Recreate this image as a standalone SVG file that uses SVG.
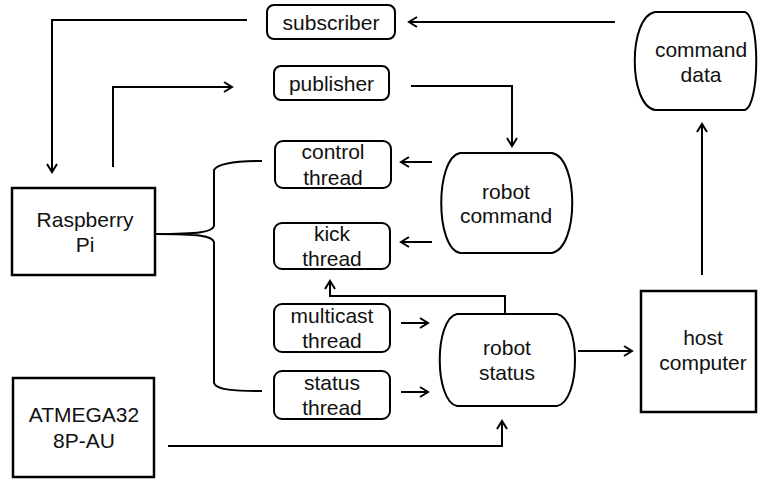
<svg xmlns="http://www.w3.org/2000/svg" width="759" height="479" viewBox="0 0 759 479">
<style>
.box{fill:#fff;stroke:#000;stroke-width:2.5}
.rr{fill:#fff;stroke:#000;stroke-width:2}
.st{fill:#fff;stroke:#000;stroke-width:2}
.t{font-family:"Liberation Sans",Arial,sans-serif;font-size:21px;fill:#111;text-anchor:middle}
.c{fill:none;stroke:#000;stroke-width:2}
</style>
<defs>
<marker id="a" markerUnits="userSpaceOnUse" markerWidth="12" markerHeight="14" refX="9" refY="6" orient="auto">
<path d="M1,1 L9,6 L1,11" fill="none" stroke="#000" stroke-width="2"/>
</marker>
</defs>
<g id="connectors">
<path class="c" d="M615,22 L409,22" marker-end="url(#a)"/>
<path class="c" d="M247,20 L52,20 L52,172" marker-end="url(#a)"/>
<path class="c" d="M113,167 L113,87 L232,87" marker-end="url(#a)"/>
<path class="c" d="M411,86 L512,86 L512,146" marker-end="url(#a)"/>
<path class="c" d="M432,162 L401,162" marker-end="url(#a)"/>
<path class="c" d="M432,242 L401,242" marker-end="url(#a)"/>
<path class="c" d="M401,323 L428,323" marker-end="url(#a)"/>
<path class="c" d="M401,392 L428,392" marker-end="url(#a)"/>
<path class="c" d="M505,314 L505,296 L330,296 L330,281" marker-end="url(#a)"/>
<path class="c" d="M168,446 L502,446 L502,421" marker-end="url(#a)"/>
<path class="c" d="M578,351 L632,351" marker-end="url(#a)"/>
<path class="c" d="M702,275 L702,124" marker-end="url(#a)"/>
<path class="c" d="M262,161 C240,161 218,163 214,170 L214,226 C212,232 200,234 155,234 C200,234 212,236 214,242 L214,383 C216,390 235,391 262,391"/>
</g>
<g id="subscriber"><rect class="rr" x="267" y="5" width="128" height="34" rx="7"/><text class="t" x="331" y="30">subscriber</text></g>
<g id="publisher"><rect class="rr" x="274" y="66" width="115" height="34" rx="7"/><text class="t" x="331.5" y="91">publisher</text></g>
<g id="control-thread"><rect class="rr" x="275" y="141" width="116" height="47" rx="8"/><text class="t" x="333" y="159">control</text><text class="t" x="333" y="185">thread</text></g>
<g id="kick-thread"><rect class="rr" x="274" y="223" width="116" height="46" rx="8"/><text class="t" x="332" y="241">kick</text><text class="t" x="332" y="266">thread</text></g>
<g id="multicast-thread"><rect class="rr" x="274" y="304" width="116" height="48" rx="8"/><text class="t" x="332" y="323">multicast</text><text class="t" x="332" y="348">thread</text></g>
<g id="status-thread"><rect class="rr" x="274" y="371" width="116" height="48" rx="8"/><text class="t" x="332" y="390">status</text><text class="t" x="332" y="415">thread</text></g>
<g id="raspberry-pi"><rect class="box" x="12" y="188" width="143" height="87"/><text class="t" x="85" y="227">Raspberry</text><text class="t" x="85" y="252">Pi</text></g>
<g id="atmega"><rect class="box" x="13" y="378" width="141" height="99"/><text class="t" x="84" y="422">ATMEGA32</text><text class="t" x="84" y="448">8P-AU</text></g>
<g id="robot-command"><path class="st" d="M460,153 L552,153 C579,158 579,248 552,253 L460,253 C435,248 435,158 460,153 Z"/><text class="t" x="506" y="199">robot</text><text class="t" x="506" y="223">command</text></g>
<g id="robot-status"><path class="st" d="M457,314 L557,314 C581,319 581,401 557,406 L457,406 C434,401 434,319 457,314 Z"/><text class="t" x="507" y="355">robot</text><text class="t" x="507" y="380">status</text></g>
<g id="host-computer"><rect class="box" x="641" y="291" width="115" height="121"/><text class="t" x="703" y="345">host</text><text class="t" x="703" y="370">computer</text></g>
<g id="command-data"><path class="st" d="M655,12 L745,12 C760,17 760,105 745,110 L655,110 C628,105 628,17 655,12 Z"/><text class="t" x="701" y="57">command</text><text class="t" x="701" y="82">data</text></g>
</svg>
